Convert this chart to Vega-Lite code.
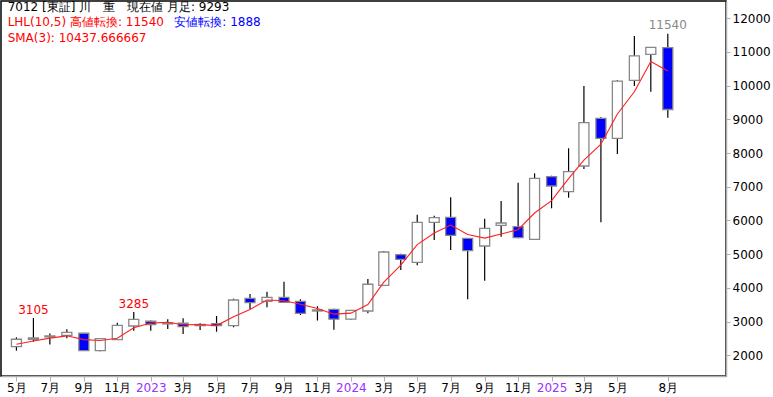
{
  "$schema": "https://vega.github.io/schema/vega-lite/v6.json",
  "width": 725,
  "height": 375,
  "autosize": {"type": "none"},
  "padding": {"left": 1, "top": 1, "right": 47, "bottom": 21},
  "background": "white",
  "config": {
    "view": {"stroke": "black", "strokeWidth": 1.5},
    "font": "DejaVu Sans",
    "text": {"font": "DejaVu Sans", "fontSize": 12},
    "axis": {"labelOverlap": false, "labelSeparation": 0},
    "axisY": {"labelOverlap": false}
  },
  "datasets": {
    "candles": [
      {"date": "2022-05-01", "open": 2255, "high": 2534, "low": 2136, "close": 2475, "sma": 2326},
      {"date": "2022-06-01", "open": 2513, "high": 3105, "low": 2404, "close": 2475, "sma": 2424},
      {"date": "2022-07-01", "open": 2545, "high": 2645, "low": 2318, "close": 2575, "sma": 2508},
      {"date": "2022-08-01", "open": 2593, "high": 2771, "low": 2504, "close": 2682, "sma": 2577},
      {"date": "2022-09-01", "open": 2653, "high": 2670, "low": 2130, "close": 2136, "sma": 2464},
      {"date": "2022-10-01", "open": 2136, "high": 2513, "low": 2119, "close": 2493, "sma": 2437},
      {"date": "2022-11-01", "open": 2463, "high": 2967, "low": 2455, "close": 2890, "sma": 2506},
      {"date": "2022-12-01", "open": 2869, "high": 3285, "low": 2730, "close": 3068, "sma": 2817},
      {"date": "2023-01-01", "open": 3009, "high": 3030, "low": 2730, "close": 2908, "sma": 2955},
      {"date": "2023-02-01", "open": 2930, "high": 3068, "low": 2780, "close": 2965, "sma": 2980},
      {"date": "2023-03-01", "open": 2950, "high": 3098, "low": 2632, "close": 2849, "sma": 2907},
      {"date": "2023-04-01", "open": 2880, "high": 2950, "low": 2750, "close": 2915, "sma": 2910},
      {"date": "2023-05-01", "open": 2938, "high": 3166, "low": 2700, "close": 2878, "sma": 2881},
      {"date": "2023-06-01", "open": 2878, "high": 3679, "low": 2830, "close": 3641, "sma": 3145},
      {"date": "2023-07-01", "open": 3691, "high": 3819, "low": 3365, "close": 3561, "sma": 3360},
      {"date": "2023-08-01", "open": 3602, "high": 3887, "low": 3424, "close": 3721, "sma": 3641},
      {"date": "2023-09-01", "open": 3721, "high": 4184, "low": 3560, "close": 3572, "sma": 3618},
      {"date": "2023-10-01", "open": 3602, "high": 3661, "low": 3196, "close": 3246, "sma": 3513},
      {"date": "2023-11-01", "open": 3314, "high": 3454, "low": 3030, "close": 3345, "sma": 3388},
      {"date": "2023-12-01", "open": 3360, "high": 3380, "low": 2760, "close": 3070, "sma": 3220},
      {"date": "2024-01-01", "open": 3070, "high": 3345, "low": 3047, "close": 3335, "sma": 3250},
      {"date": "2024-02-01", "open": 3314, "high": 4264, "low": 3246, "close": 4107, "sma": 3504},
      {"date": "2024-03-01", "open": 4077, "high": 5095, "low": 4060, "close": 5065, "sma": 4169},
      {"date": "2024-04-01", "open": 4985, "high": 5015, "low": 4530, "close": 4848, "sma": 4673},
      {"date": "2024-05-01", "open": 4759, "high": 6172, "low": 4670, "close": 5946, "sma": 5286},
      {"date": "2024-06-01", "open": 5946, "high": 6142, "low": 5421, "close": 6083, "sma": 5626},
      {"date": "2024-07-01", "open": 6094, "high": 6688, "low": 5124, "close": 5560, "sma": 5863},
      {"date": "2024-08-01", "open": 5471, "high": 5480, "low": 3661, "close": 5103, "sma": 5582},
      {"date": "2024-09-01", "open": 5243, "high": 6053, "low": 4213, "close": 5768, "sma": 5477},
      {"date": "2024-10-01", "open": 5857, "high": 6578, "low": 5520, "close": 5925, "sma": 5599},
      {"date": "2024-11-01", "open": 5816, "high": 7121, "low": 5470, "close": 5490, "sma": 5728},
      {"date": "2024-12-01", "open": 5442, "high": 7400, "low": 5420, "close": 7252, "sma": 6222},
      {"date": "2025-01-01", "open": 7302, "high": 7329, "low": 6361, "close": 7023, "sma": 6588},
      {"date": "2025-02-01", "open": 6855, "high": 8142, "low": 6676, "close": 7449, "sma": 7241},
      {"date": "2025-03-01", "open": 7616, "high": 9990, "low": 7528, "close": 8901, "sma": 7791},
      {"date": "2025-04-01", "open": 9031, "high": 9061, "low": 5946, "close": 8438, "sma": 8263},
      {"date": "2025-05-01", "open": 8438, "high": 10159, "low": 7972, "close": 10138, "sma": 9159},
      {"date": "2025-06-01", "open": 10159, "high": 11474, "low": 9990, "close": 10885, "sma": 9820},
      {"date": "2025-07-01", "open": 10930, "high": 11150, "low": 9822, "close": 11135, "sma": 10719},
      {"date": "2025-08-01", "open": 11130, "high": 11540, "low": 9050, "close": 9293, "sma": 10437.67}
    ],
    "turns": [
      {"date": "2022-06-01", "price": 3105, "label": "3105"},
      {"date": "2022-12-01", "price": 3285, "label": "3285"}
    ],
    "current": [
      {"date": "2025-08-01", "price": 11540, "label": "11540"}
    ]
  },
  "encoding": {
    "x": {
      "field": "date", "type": "temporal",
      "scale": {"type": "utc", "domain": [{"year": 2022, "month": 4, "date": 12, "utc": true}, {"year": 2025, "month": 11, "date": 6, "utc": true}]},
      "axis": {
        "orient": "bottom",
        "title": null,
        "grid": false,
        "values": [
          {"year": 2022, "month": 5, "date": 1, "utc": true},
          {"year": 2022, "month": 7, "date": 1, "utc": true},
          {"year": 2022, "month": 9, "date": 1, "utc": true},
          {"year": 2022, "month": 11, "date": 1, "utc": true},
          {"year": 2023, "month": 1, "date": 1, "utc": true},
          {"year": 2023, "month": 3, "date": 1, "utc": true},
          {"year": 2023, "month": 5, "date": 1, "utc": true},
          {"year": 2023, "month": 7, "date": 1, "utc": true},
          {"year": 2023, "month": 9, "date": 1, "utc": true},
          {"year": 2023, "month": 11, "date": 1, "utc": true},
          {"year": 2024, "month": 1, "date": 1, "utc": true},
          {"year": 2024, "month": 3, "date": 1, "utc": true},
          {"year": 2024, "month": 5, "date": 1, "utc": true},
          {"year": 2024, "month": 7, "date": 1, "utc": true},
          {"year": 2024, "month": 9, "date": 1, "utc": true},
          {"year": 2024, "month": 11, "date": 1, "utc": true},
          {"year": 2025, "month": 1, "date": 1, "utc": true},
          {"year": 2025, "month": 3, "date": 1, "utc": true},
          {"year": 2025, "month": 5, "date": 1, "utc": true},
          {"year": 2025, "month": 8, "date": 1, "utc": true}
        ],
        "labelExpr": "utcmonth(datum.value) == 0 ? utcFormat(datum.value, '%Y') : (utcmonth(datum.value) + 1) + '月'",
        "labelColor": {"condition": {"test": "utcmonth(datum.value) == 0", "value": "#9933ff"}, "value": "black"},
        "labelFont": "DejaVu Sans",
        "labelFontSize": 12,
        "labelPadding": 1,
        "labelFlush": false,
        "labelOverlap": false,
        "labelBound": false,
        "tickSize": 5,
        "tickColor": "#b0b0b0",
        "domainColor": "#b0b0b0",
        "domainWidth": 1.5
      }
    }
  },
  "layer": [
    {
      "data": {"name": "candles"},
      "mark": {"type": "rule", "color": "black", "strokeWidth": 1.2},
      "encoding": {
        "y": {
          "field": "low", "type": "quantitative",
          "scale": {"domain": [1385, 12513], "nice": false, "zero": false},
          "axis": {"orient": "right", "title": null, "grid": false, "values": [2000, 3000, 4000, 5000, 6000, 7000, 8000, 9000, 10000, 11000, 12000], "format": "d", "labelFont": "DejaVu Sans", "labelFontSize": 12, "labelColor": "black", "labelPadding": 2, "labelOverlap": false, "labelFlush": false, "labelBound": false, "tickSize": 4, "tickColor": "#b0b0b0", "domainColor": "#b0b0b0", "domainWidth": 1.5}
        },
        "y2": {"field": "high"}
      }
    },
    {
      "data": {"name": "candles"},
      "mark": {"type": "bar", "size": 10, "stroke": "#888888", "strokeWidth": 1.3},
      "encoding": {
        "y": {
          "field": "open", "type": "quantitative",
          "scale": {"domain": [1385, 12513], "nice": false, "zero": false},
          "axis": {"orient": "right", "title": null, "grid": false, "values": [2000, 3000, 4000, 5000, 6000, 7000, 8000, 9000, 10000, 11000, 12000], "format": "d", "labelFont": "DejaVu Sans", "labelFontSize": 12, "labelColor": "black", "labelPadding": 2, "labelOverlap": false, "labelFlush": false, "labelBound": false, "tickSize": 4, "tickColor": "#b0b0b0", "domainColor": "#b0b0b0", "domainWidth": 1.5}
        },
        "y2": {"field": "close"},
        "fill": {"condition": {"test": "datum.close < datum.open", "value": "#0000ff"}, "value": "white"}
      }
    },
    {
      "data": {"name": "candles"},
      "mark": {"type": "line", "color": "#ff2020", "strokeWidth": 1.1},
      "encoding": {
        "y": {
          "field": "sma", "type": "quantitative",
          "scale": {"domain": [1385, 12513], "nice": false, "zero": false},
          "axis": {"orient": "right", "title": null, "grid": false, "values": [2000, 3000, 4000, 5000, 6000, 7000, 8000, 9000, 10000, 11000, 12000], "format": "d", "labelFont": "DejaVu Sans", "labelFontSize": 12, "labelColor": "black", "labelPadding": 2, "labelOverlap": false, "labelFlush": false, "labelBound": false, "tickSize": 4, "tickColor": "#b0b0b0", "domainColor": "#b0b0b0", "domainWidth": 1.5}
        }
      }
    },
    {
      "data": {"name": "turns"},
      "mark": {"type": "text", "color": "#ff0000", "fontSize": 12, "baseline": "alphabetic", "dy": -4},
      "encoding": {
        "y": {
          "field": "price", "type": "quantitative",
          "scale": {"domain": [1385, 12513], "nice": false, "zero": false},
          "axis": {"orient": "right", "title": null, "grid": false, "values": [2000, 3000, 4000, 5000, 6000, 7000, 8000, 9000, 10000, 11000, 12000], "format": "d", "labelFont": "DejaVu Sans", "labelFontSize": 12, "labelColor": "black", "labelPadding": 2, "labelOverlap": false, "labelFlush": false, "labelBound": false, "tickSize": 4, "tickColor": "#b0b0b0", "domainColor": "#b0b0b0", "domainWidth": 1.5}
        },
        "text": {"field": "label"}
      }
    },
    {
      "data": {"name": "current"},
      "mark": {"type": "text", "color": "#888888", "fontSize": 12, "baseline": "alphabetic", "dy": -5},
      "encoding": {
        "y": {
          "field": "price", "type": "quantitative",
          "scale": {"domain": [1385, 12513], "nice": false, "zero": false},
          "axis": {"orient": "right", "title": null, "grid": false, "values": [2000, 3000, 4000, 5000, 6000, 7000, 8000, 9000, 10000, 11000, 12000], "format": "d", "labelFont": "DejaVu Sans", "labelFontSize": 12, "labelColor": "black", "labelPadding": 2, "labelOverlap": false, "labelFlush": false, "labelBound": false, "tickSize": 4, "tickColor": "#b0b0b0", "domainColor": "#b0b0b0", "domainWidth": 1.5}
        },
        "text": {"field": "label"}
      }
    },
    {
      "data": {"values": [
        {"date": "2022-04-15", "price": 12344, "t": "7012 [東証] 川　重　現在値 月足: 9293"}
      ]},
      "mark": {"type": "text", "color": "black", "align": "left", "baseline": "middle", "fontSize": 12},
      "encoding": {
        "y": {
          "field": "price", "type": "quantitative",
          "scale": {"domain": [1385, 12513], "nice": false, "zero": false},
          "axis": {"orient": "right", "title": null, "grid": false, "values": [2000, 3000, 4000, 5000, 6000, 7000, 8000, 9000, 10000, 11000, 12000], "format": "d", "labelFont": "DejaVu Sans", "labelFontSize": 12, "labelColor": "black", "labelPadding": 2, "labelOverlap": false, "labelFlush": false, "labelBound": false, "tickSize": 4, "tickColor": "#b0b0b0", "domainColor": "#b0b0b0", "domainWidth": 1.5}
        },
        "text": {"field": "t"}
      }
    },
    {
      "data": {"values": [
        {"date": "2022-04-15", "price": 11881, "t": "LHL(10,5) 高値転換: 11540"},
        {"date": "2022-04-15", "price": 11424, "t": "SMA(3): 10437.666667"}
      ]},
      "mark": {"type": "text", "color": "#ff0000", "align": "left", "baseline": "middle", "fontSize": 12},
      "encoding": {
        "y": {
          "field": "price", "type": "quantitative",
          "scale": {"domain": [1385, 12513], "nice": false, "zero": false},
          "axis": {"orient": "right", "title": null, "grid": false, "values": [2000, 3000, 4000, 5000, 6000, 7000, 8000, 9000, 10000, 11000, 12000], "format": "d", "labelFont": "DejaVu Sans", "labelFontSize": 12, "labelColor": "black", "labelPadding": 2, "labelOverlap": false, "labelFlush": false, "labelBound": false, "tickSize": 4, "tickColor": "#b0b0b0", "domainColor": "#b0b0b0", "domainWidth": 1.5}
        },
        "text": {"field": "t"}
      }
    },
    {
      "data": {"values": [
        {"date": "2023-02-13", "price": 11881, "t": "安値転換: 1888"}
      ]},
      "mark": {"type": "text", "color": "#0000ff", "align": "left", "baseline": "middle", "fontSize": 12},
      "encoding": {
        "y": {
          "field": "price", "type": "quantitative",
          "scale": {"domain": [1385, 12513], "nice": false, "zero": false},
          "axis": {"orient": "right", "title": null, "grid": false, "values": [2000, 3000, 4000, 5000, 6000, 7000, 8000, 9000, 10000, 11000, 12000], "format": "d", "labelFont": "DejaVu Sans", "labelFontSize": 12, "labelColor": "black", "labelPadding": 2, "labelOverlap": false, "labelFlush": false, "labelBound": false, "tickSize": 4, "tickColor": "#b0b0b0", "domainColor": "#b0b0b0", "domainWidth": 1.5}
        },
        "text": {"field": "t"}
      }
    }
  ]
}
